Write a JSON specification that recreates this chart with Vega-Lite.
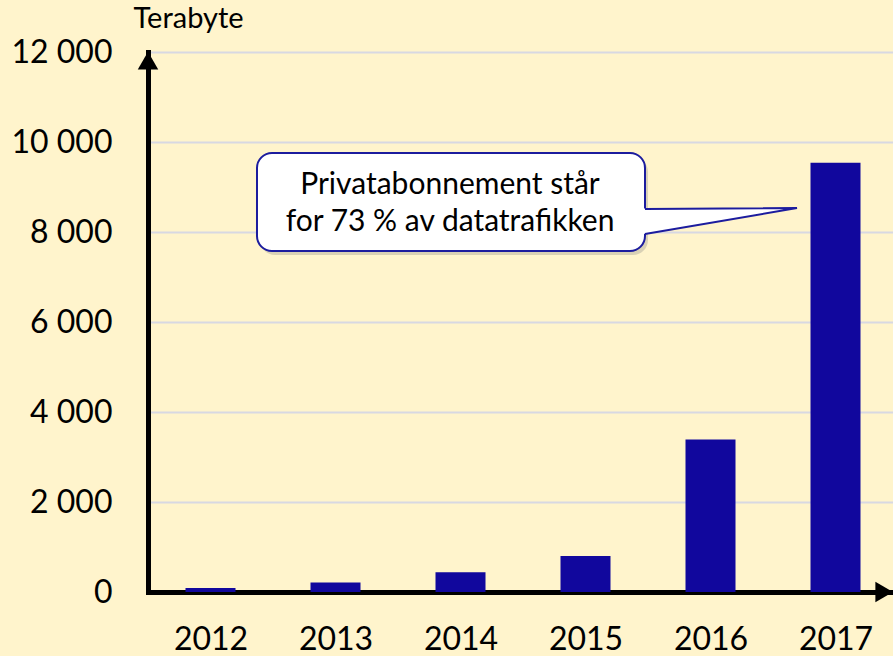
{
  "$schema": "https://vega.github.io/schema/vega-lite/v6.json",
  "width": 745,
  "height": 540,
  "autosize": {"type": "none"},
  "padding": {"left": 148, "top": 52, "right": 0, "bottom": 64},
  "background": "#FFF4CC",
  "config": {
    "view": {"stroke": null},
    "font": "Lato",
    "text": {"font": "Lato"}
  },
  "layer": [
    {
      "data": {"values": [
        {"year": 2012, "value": 90},
        {"year": 2013, "value": 210},
        {"year": 2014, "value": 440},
        {"year": 2015, "value": 800},
        {"year": 2016, "value": 3390},
        {"year": 2017, "value": 9540}
      ]},
      "mark": {"type": "bar", "width": 50, "color": "#11079D"},
      "encoding": {
        "x": {
          "field": "year", "type": "quantitative",
          "scale": {"domain": [2011.5, 2017.46], "nice": false, "zero": false, "padding": 0},
          "axis": {
            "values": [2012, 2013, 2014, 2015, 2016, 2017],
            "format": "d",
            "title": null,
            "grid": false,
            "ticks": false,
            "domainColor": "#000000",
            "domainWidth": 5,
            "domainCap": "square",
            "labelFont": "Lato",
            "labelFontSize": 32,
            "labelColor": "#000000",
            "labelBaseline": "alphabetic",
            "labelPadding": 57,
            "labelFlush": false,
            "labelOverlap": false
          }
        },
        "y": {
          "field": "value", "type": "quantitative",
          "scale": {"domain": [0, 12000], "nice": false, "padding": 0},
          "axis": {
            "values": [0, 2000, 4000, 6000, 8000, 10000, 12000],
            "labelExpr": "replace(format(datum.value, ','), ',', ' ')",
            "grid": true,
            "gridColor": "#D8D8E2",
            "gridWidth": 2,
            "ticks": false,
            "domainColor": "#000000",
            "domainWidth": 5,
            "domainCap": "square",
            "labelFont": "Lato",
            "labelFontSize": 32,
            "labelColor": "#000000",
            "labelPadding": 36,
            "labelFlush": false,
            "labelOverlap": false,
            "title": "Terabyte",
            "titleAngle": 0,
            "titleAlign": "left",
            "titleBaseline": "alphabetic",
            "titleX": -15,
            "titleY": -25,
            "titleFont": "Lato",
            "titleFontSize": 29,
            "titleFontWeight": "normal",
            "titleColor": "#000000"
          }
        }
      }
    },
    {
      "data": {"values": [{"year": 2011.5, "value": 11808}]},
      "mark": {"type": "point", "shape": "triangle-up", "filled": true, "size": 420, "color": "#000000", "opacity": 1},
      "encoding": {
        "x": {"field": "year", "type": "quantitative"},
        "y": {"field": "value", "type": "quantitative"}
      }
    },
    {
      "data": {"values": [{"year": 2017.39, "value": 0}]},
      "mark": {"type": "point", "shape": "triangle-right", "filled": true, "size": 420, "color": "#000000", "opacity": 1},
      "encoding": {
        "x": {"field": "year", "type": "quantitative"},
        "y": {"field": "value", "type": "quantitative"}
      }
    },
    {
      "data": {"values": [{"x1": 2012.372, "x2": 2015.476, "y1": 9756, "y2": 7578}]},
      "mark": {"type": "rect", "cornerRadius": 15, "fill": "#808080", "opacity": 0.3, "xOffset": 3, "x2Offset": 3, "yOffset": 4, "y2Offset": 4},
      "encoding": {
        "x": {"field": "x1", "type": "quantitative"},
        "x2": {"field": "x2"},
        "y": {"field": "y1", "type": "quantitative"},
        "y2": {"field": "y2"}
      }
    },
    {
      "data": {"values": [{"x1": 2012.372, "x2": 2015.476, "y1": 9756, "y2": 7578}]},
      "mark": {"type": "rect", "cornerRadius": 15, "fill": "#FFFFFF", "stroke": "#1C1C9E", "strokeWidth": 2},
      "encoding": {
        "x": {"field": "x1", "type": "quantitative"},
        "x2": {"field": "x2"},
        "y": {"field": "y1", "type": "quantitative"},
        "y2": {"field": "y2"}
      }
    },
    {
      "data": {"values": [
        {"x": 2015.44, "top": 8520, "bottom": 7945},
        {"x": 2016.692, "top": 8533, "bottom": 8533}
      ]},
      "mark": {"type": "area", "color": "#FFFFFF", "opacity": 1, "orient": "vertical"},
      "encoding": {
        "x": {"field": "x", "type": "quantitative"},
        "y": {"field": "top", "type": "quantitative"},
        "y2": {"field": "bottom"}
      }
    },
    {
      "data": {"values": [
        {"x": 2015.476, "y": 8511, "k": 1},
        {"x": 2016.692, "y": 8533, "k": 2},
        {"x": 2015.476, "y": 7956, "k": 3}
      ]},
      "mark": {"type": "line", "color": "#1C1C9E", "strokeWidth": 2},
      "encoding": {
        "x": {"field": "x", "type": "quantitative"},
        "y": {"field": "y", "type": "quantitative"},
        "order": {"field": "k", "type": "quantitative"}
      }
    },
    {
      "data": {"values": [
        {"x": 2013.916, "y": 8844, "label": "Privatabonnement står"},
        {"x": 2013.916, "y": 8022, "label": "for 73 % av datatrafikken"}
      ]},
      "mark": {"type": "text", "font": "Lato", "fontSize": 30, "color": "#000000", "align": "center", "baseline": "alphabetic"},
      "encoding": {
        "x": {"field": "x", "type": "quantitative"},
        "y": {"field": "y", "type": "quantitative"},
        "text": {"field": "label"}
      }
    }
  ]
}
